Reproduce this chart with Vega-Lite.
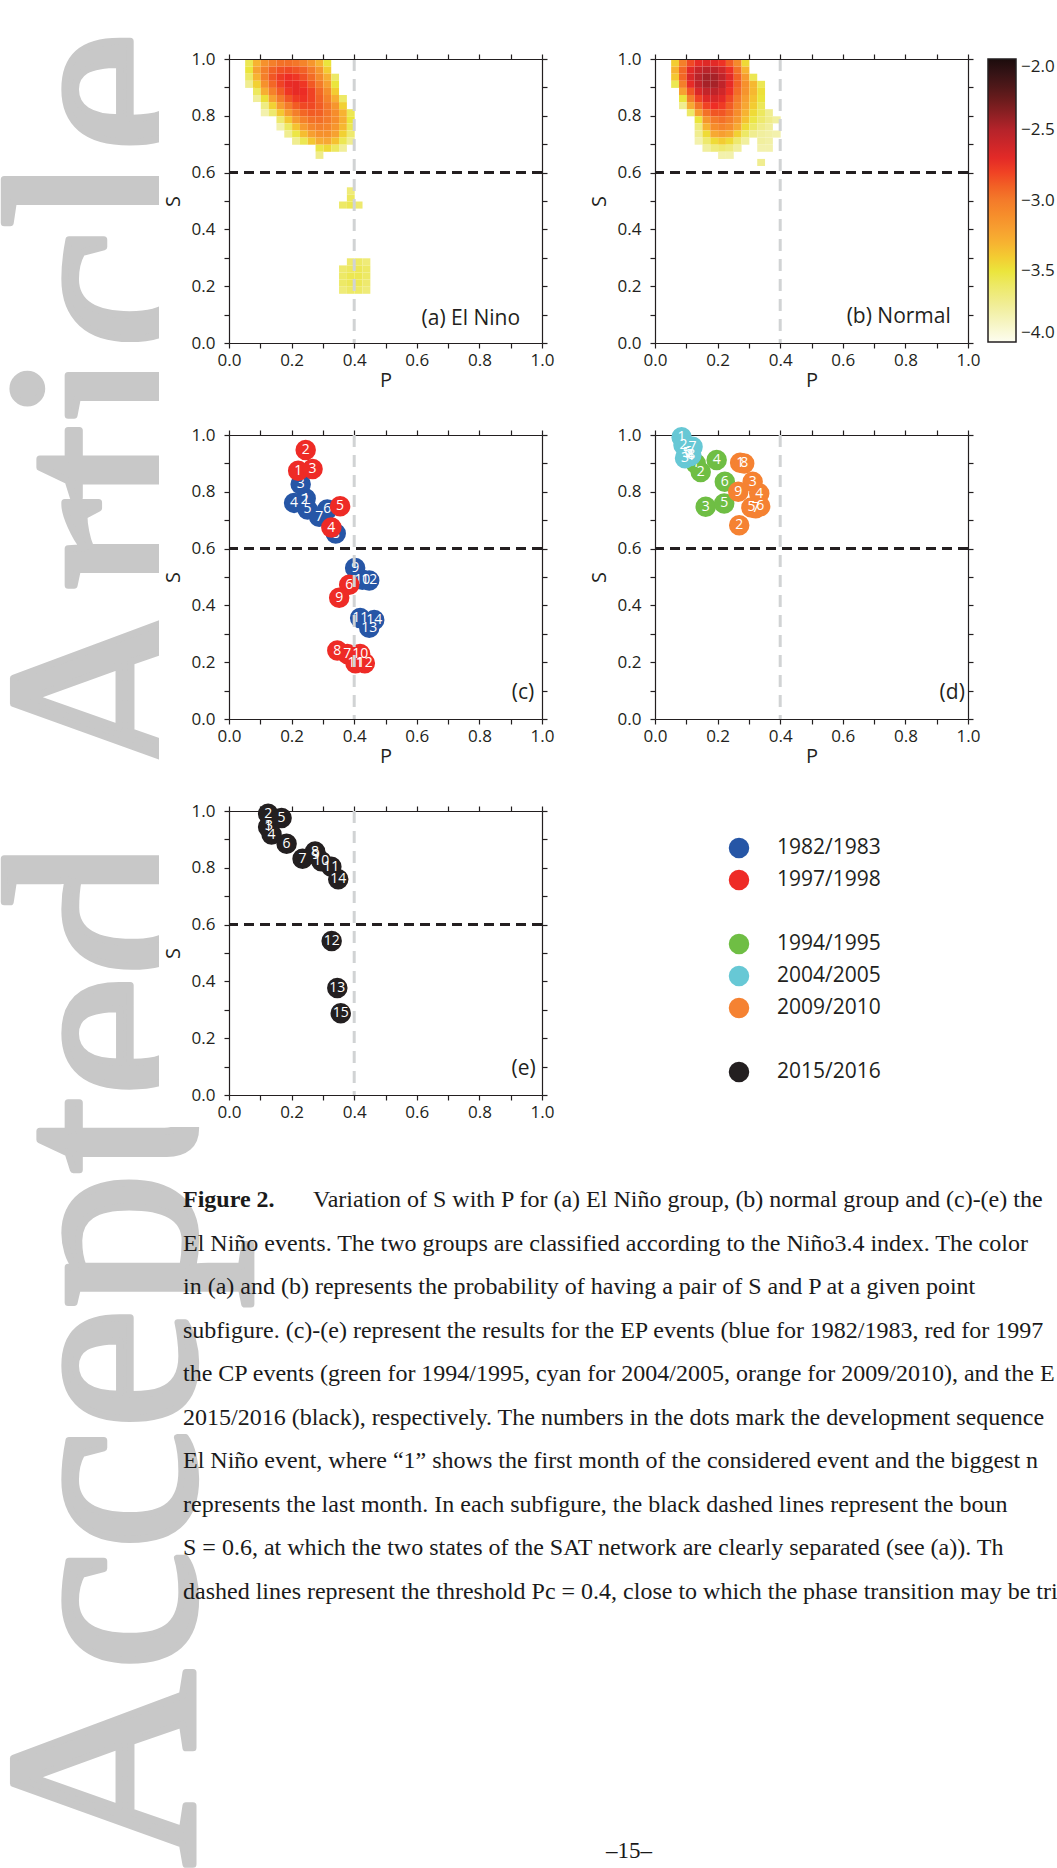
{
"$schema":"https://vega.github.io/schema/vega-lite/v6.json",
"background":"white",
"padding":{"left":-26,"top":0,"right":0,"bottom":0},
"config":{
 "view":{"stroke":null},
 "axis":{"grid":false,"domainColor":"#231f20","domainWidth":1.2,"tickColor":"#231f20","tickWidth":1.2,"tickSize":5,"labelFont":"Open Sans","labelFontSize":17,"labelColor":"#231f20","labelPadding":9,"labelFlush":false,"labelOverlap":false,"titleFont":"Open Sans","titleFontSize":20,"titleFontWeight":"normal","titleColor":"#231f20","titlePadding":6},
 "axisLeft":{"titlePadding":8},
 "axisBottom":{"labelPadding":4,"titlePadding":2}
},
"datasets":{
"heatA":[
{"p":0.05,"s":0.975,"v":-3.55},{"p":0.075,"s":0.975,"v":-3.3},{"p":0.1,"s":0.975,"v":-3.12},{"p":0.125,"s":0.975,"v":-3.02},{"p":0.15,"s":0.975,"v":-2.96},{"p":0.175,"s":0.975,"v":-2.95},{"p":0.2,"s":0.975,"v":-2.98},{"p":0.225,"s":0.975,"v":-3.05},{"p":0.25,"s":0.975,"v":-3.15},{"p":0.275,"s":0.975,"v":-3.3},{"p":0.3,"s":0.975,"v":-3.5},
{"p":0.05,"s":0.95,"v":-3.5},{"p":0.075,"s":0.95,"v":-3.22},{"p":0.1,"s":0.95,"v":-3.02},{"p":0.125,"s":0.95,"v":-2.9},{"p":0.15,"s":0.95,"v":-2.84},{"p":0.175,"s":0.95,"v":-2.82},{"p":0.2,"s":0.95,"v":-2.85},{"p":0.225,"s":0.95,"v":-2.9},{"p":0.25,"s":0.95,"v":-3.0},{"p":0.275,"s":0.95,"v":-3.15},{"p":0.3,"s":0.95,"v":-3.4},
{"p":0.05,"s":0.925,"v":-3.6},{"p":0.075,"s":0.925,"v":-3.3},{"p":0.1,"s":0.925,"v":-3.02},{"p":0.125,"s":0.925,"v":-2.86},{"p":0.15,"s":0.925,"v":-2.78},{"p":0.175,"s":0.925,"v":-2.75},{"p":0.2,"s":0.925,"v":-2.77},{"p":0.225,"s":0.925,"v":-2.84},{"p":0.25,"s":0.925,"v":-2.94},{"p":0.275,"s":0.925,"v":-3.08},{"p":0.3,"s":0.925,"v":-3.28},{"p":0.325,"s":0.925,"v":-3.6},
{"p":0.05,"s":0.9,"v":-3.72},{"p":0.075,"s":0.9,"v":-3.42},{"p":0.1,"s":0.9,"v":-3.12},{"p":0.125,"s":0.9,"v":-2.92},{"p":0.15,"s":0.9,"v":-2.8},{"p":0.175,"s":0.9,"v":-2.73},{"p":0.2,"s":0.9,"v":-2.72},{"p":0.225,"s":0.9,"v":-2.77},{"p":0.25,"s":0.9,"v":-2.87},{"p":0.275,"s":0.9,"v":-3.0},{"p":0.3,"s":0.9,"v":-3.2},{"p":0.325,"s":0.9,"v":-3.5},
{"p":0.075,"s":0.875,"v":-3.58},{"p":0.1,"s":0.875,"v":-3.28},{"p":0.125,"s":0.875,"v":-3.03},{"p":0.15,"s":0.875,"v":-2.88},{"p":0.175,"s":0.875,"v":-2.77},{"p":0.2,"s":0.875,"v":-2.72},{"p":0.225,"s":0.875,"v":-2.74},{"p":0.25,"s":0.875,"v":-2.8},{"p":0.275,"s":0.875,"v":-2.93},{"p":0.3,"s":0.875,"v":-3.1},{"p":0.325,"s":0.875,"v":-3.4},
{"p":0.075,"s":0.85,"v":-3.75},{"p":0.1,"s":0.85,"v":-3.48},{"p":0.125,"s":0.85,"v":-3.22},{"p":0.15,"s":0.85,"v":-3.0},{"p":0.175,"s":0.85,"v":-2.86},{"p":0.2,"s":0.85,"v":-2.78},{"p":0.225,"s":0.85,"v":-2.76},{"p":0.25,"s":0.85,"v":-2.8},{"p":0.275,"s":0.85,"v":-2.9},{"p":0.3,"s":0.85,"v":-3.04},{"p":0.325,"s":0.85,"v":-3.28},{"p":0.35,"s":0.85,"v":-3.6},
{"p":0.1,"s":0.825,"v":-3.68},{"p":0.125,"s":0.825,"v":-3.42},{"p":0.15,"s":0.825,"v":-3.18},{"p":0.175,"s":0.825,"v":-3.0},{"p":0.2,"s":0.825,"v":-2.88},{"p":0.225,"s":0.825,"v":-2.82},{"p":0.25,"s":0.825,"v":-2.82},{"p":0.275,"s":0.825,"v":-2.88},{"p":0.3,"s":0.825,"v":-2.98},{"p":0.325,"s":0.825,"v":-3.15},{"p":0.35,"s":0.825,"v":-3.42},
{"p":0.1,"s":0.8,"v":-3.8},{"p":0.125,"s":0.8,"v":-3.62},{"p":0.15,"s":0.8,"v":-3.38},{"p":0.175,"s":0.8,"v":-3.18},{"p":0.2,"s":0.8,"v":-3.02},{"p":0.225,"s":0.8,"v":-2.92},{"p":0.25,"s":0.8,"v":-2.88},{"p":0.275,"s":0.8,"v":-2.9},{"p":0.3,"s":0.8,"v":-2.98},{"p":0.325,"s":0.8,"v":-3.1},{"p":0.35,"s":0.8,"v":-3.3},{"p":0.375,"s":0.8,"v":-3.55},
{"p":0.15,"s":0.775,"v":-3.62},{"p":0.175,"s":0.775,"v":-3.38},{"p":0.2,"s":0.775,"v":-3.18},{"p":0.225,"s":0.775,"v":-3.04},{"p":0.25,"s":0.775,"v":-2.96},{"p":0.275,"s":0.775,"v":-2.95},{"p":0.3,"s":0.775,"v":-3.0},{"p":0.325,"s":0.775,"v":-3.1},{"p":0.35,"s":0.775,"v":-3.28},{"p":0.375,"s":0.775,"v":-3.5},
{"p":0.15,"s":0.75,"v":-3.8},{"p":0.175,"s":0.75,"v":-3.58},{"p":0.2,"s":0.75,"v":-3.36},{"p":0.225,"s":0.75,"v":-3.18},{"p":0.25,"s":0.75,"v":-3.06},{"p":0.275,"s":0.75,"v":-3.02},{"p":0.3,"s":0.75,"v":-3.05},{"p":0.325,"s":0.75,"v":-3.15},{"p":0.35,"s":0.75,"v":-3.32},{"p":0.375,"s":0.75,"v":-3.55},
{"p":0.175,"s":0.725,"v":-3.72},{"p":0.2,"s":0.725,"v":-3.52},{"p":0.225,"s":0.725,"v":-3.34},{"p":0.25,"s":0.725,"v":-3.2},{"p":0.275,"s":0.725,"v":-3.12},{"p":0.3,"s":0.725,"v":-3.12},{"p":0.325,"s":0.725,"v":-3.22},{"p":0.35,"s":0.725,"v":-3.42},{"p":0.375,"s":0.725,"v":-3.62},
{"p":0.2,"s":0.7,"v":-3.72},{"p":0.225,"s":0.7,"v":-3.55},{"p":0.25,"s":0.7,"v":-3.38},{"p":0.275,"s":0.7,"v":-3.27},{"p":0.3,"s":0.7,"v":-3.25},{"p":0.325,"s":0.7,"v":-3.36},{"p":0.35,"s":0.7,"v":-3.55},{"p":0.375,"s":0.7,"v":-3.72},
{"p":0.275,"s":0.675,"v":-3.52},{"p":0.3,"s":0.675,"v":-3.45},{"p":0.325,"s":0.675,"v":-3.58},{"p":0.35,"s":0.675,"v":-3.75},
{"p":0.275,"s":0.65,"v":-3.7},
{"p":0.35,"s":0.475,"v":-3.6},{"p":0.375,"s":0.475,"v":-3.55},{"p":0.4,"s":0.475,"v":-3.62},{"p":0.375,"s":0.5,"v":-3.58},{"p":0.375,"s":0.525,"v":-3.65},
{"p":0.375,"s":0.275,"v":-3.62},{"p":0.4,"s":0.275,"v":-3.6},{"p":0.425,"s":0.275,"v":-3.65},
{"p":0.35,"s":0.25,"v":-3.62},{"p":0.375,"s":0.25,"v":-3.58},{"p":0.4,"s":0.25,"v":-3.56},{"p":0.425,"s":0.25,"v":-3.6},
{"p":0.35,"s":0.225,"v":-3.6},{"p":0.375,"s":0.225,"v":-3.55},{"p":0.4,"s":0.225,"v":-3.55},{"p":0.425,"s":0.225,"v":-3.6},
{"p":0.35,"s":0.2,"v":-3.6},{"p":0.375,"s":0.2,"v":-3.56},{"p":0.4,"s":0.2,"v":-3.56},{"p":0.425,"s":0.2,"v":-3.62},
{"p":0.35,"s":0.175,"v":-3.65},{"p":0.375,"s":0.175,"v":-3.6},{"p":0.4,"s":0.175,"v":-3.6},{"p":0.425,"s":0.175,"v":-3.65}
],
"heatB":[
{"p":0.05,"s":0.975,"v":-3.4},{"p":0.075,"s":0.975,"v":-3.02},{"p":0.1,"s":0.975,"v":-2.82},{"p":0.125,"s":0.975,"v":-2.72},{"p":0.15,"s":0.975,"v":-2.68},{"p":0.175,"s":0.975,"v":-2.7},{"p":0.2,"s":0.975,"v":-2.76},{"p":0.225,"s":0.975,"v":-2.88},{"p":0.25,"s":0.975,"v":-3.08},{"p":0.275,"s":0.975,"v":-3.45},
{"p":0.05,"s":0.95,"v":-3.3},{"p":0.075,"s":0.95,"v":-2.92},{"p":0.1,"s":0.95,"v":-2.7},{"p":0.125,"s":0.95,"v":-2.58},{"p":0.15,"s":0.95,"v":-2.52},{"p":0.175,"s":0.95,"v":-2.54},{"p":0.2,"s":0.95,"v":-2.62},{"p":0.225,"s":0.95,"v":-2.76},{"p":0.25,"s":0.95,"v":-2.96},{"p":0.275,"s":0.95,"v":-3.3},
{"p":0.05,"s":0.925,"v":-3.38},{"p":0.075,"s":0.925,"v":-2.92},{"p":0.1,"s":0.925,"v":-2.66},{"p":0.125,"s":0.925,"v":-2.52},{"p":0.15,"s":0.925,"v":-2.45},{"p":0.175,"s":0.925,"v":-2.46},{"p":0.2,"s":0.925,"v":-2.55},{"p":0.225,"s":0.925,"v":-2.7},{"p":0.25,"s":0.925,"v":-2.9},{"p":0.275,"s":0.925,"v":-3.18},{"p":0.3,"s":0.925,"v":-3.55},
{"p":0.05,"s":0.9,"v":-3.55},{"p":0.075,"s":0.9,"v":-3.02},{"p":0.1,"s":0.9,"v":-2.72},{"p":0.125,"s":0.9,"v":-2.55},{"p":0.15,"s":0.9,"v":-2.46},{"p":0.175,"s":0.9,"v":-2.46},{"p":0.2,"s":0.9,"v":-2.55},{"p":0.225,"s":0.9,"v":-2.72},{"p":0.25,"s":0.9,"v":-2.9},{"p":0.275,"s":0.9,"v":-3.12},{"p":0.3,"s":0.9,"v":-3.32},{"p":0.325,"s":0.9,"v":-3.55},
{"p":0.075,"s":0.875,"v":-3.22},{"p":0.1,"s":0.875,"v":-2.86},{"p":0.125,"s":0.875,"v":-2.66},{"p":0.15,"s":0.875,"v":-2.56},{"p":0.175,"s":0.875,"v":-2.55},{"p":0.2,"s":0.875,"v":-2.62},{"p":0.225,"s":0.875,"v":-2.76},{"p":0.25,"s":0.875,"v":-2.94},{"p":0.275,"s":0.875,"v":-3.14},{"p":0.3,"s":0.875,"v":-3.32},{"p":0.325,"s":0.875,"v":-3.48},
{"p":0.075,"s":0.85,"v":-3.5},{"p":0.1,"s":0.85,"v":-3.02},{"p":0.125,"s":0.85,"v":-2.8},{"p":0.15,"s":0.85,"v":-2.68},{"p":0.175,"s":0.85,"v":-2.65},{"p":0.2,"s":0.85,"v":-2.7},{"p":0.225,"s":0.85,"v":-2.82},{"p":0.25,"s":0.85,"v":-3.0},{"p":0.275,"s":0.85,"v":-3.2},{"p":0.3,"s":0.85,"v":-3.36},{"p":0.325,"s":0.85,"v":-3.5},
{"p":0.075,"s":0.825,"v":-3.72},{"p":0.1,"s":0.825,"v":-3.26},{"p":0.125,"s":0.825,"v":-2.96},{"p":0.15,"s":0.825,"v":-2.8},{"p":0.175,"s":0.825,"v":-2.75},{"p":0.2,"s":0.825,"v":-2.78},{"p":0.225,"s":0.825,"v":-2.88},{"p":0.25,"s":0.825,"v":-3.05},{"p":0.275,"s":0.825,"v":-3.25},{"p":0.3,"s":0.825,"v":-3.4},{"p":0.325,"s":0.825,"v":-3.56},
{"p":0.1,"s":0.8,"v":-3.6},{"p":0.125,"s":0.8,"v":-3.2},{"p":0.15,"s":0.8,"v":-2.96},{"p":0.175,"s":0.8,"v":-2.86},{"p":0.2,"s":0.8,"v":-2.86},{"p":0.225,"s":0.8,"v":-2.94},{"p":0.25,"s":0.8,"v":-3.1},{"p":0.275,"s":0.8,"v":-3.3},{"p":0.3,"s":0.8,"v":-3.46},{"p":0.325,"s":0.8,"v":-3.58},{"p":0.35,"s":0.8,"v":-3.72},
{"p":0.125,"s":0.775,"v":-3.5},{"p":0.15,"s":0.775,"v":-3.15},{"p":0.175,"s":0.775,"v":-3.0},{"p":0.2,"s":0.775,"v":-2.96},{"p":0.225,"s":0.775,"v":-3.02},{"p":0.25,"s":0.775,"v":-3.16},{"p":0.275,"s":0.775,"v":-3.36},{"p":0.3,"s":0.775,"v":-3.52},{"p":0.325,"s":0.775,"v":-3.62},{"p":0.35,"s":0.775,"v":-3.7},{"p":0.375,"s":0.775,"v":-3.76},
{"p":0.125,"s":0.75,"v":-3.66},{"p":0.15,"s":0.75,"v":-3.3},{"p":0.175,"s":0.75,"v":-3.1},{"p":0.2,"s":0.75,"v":-3.05},{"p":0.225,"s":0.75,"v":-3.1},{"p":0.25,"s":0.75,"v":-3.26},{"p":0.275,"s":0.75,"v":-3.46},{"p":0.3,"s":0.75,"v":-3.6},{"p":0.325,"s":0.75,"v":-3.7},{"p":0.35,"s":0.75,"v":-3.75},
{"p":0.125,"s":0.725,"v":-3.72},{"p":0.15,"s":0.725,"v":-3.46},{"p":0.175,"s":0.725,"v":-3.26},{"p":0.2,"s":0.725,"v":-3.2},{"p":0.225,"s":0.725,"v":-3.26},{"p":0.25,"s":0.725,"v":-3.42},{"p":0.275,"s":0.725,"v":-3.6},{"p":0.3,"s":0.725,"v":-3.72},{"p":0.325,"s":0.725,"v":-3.76},{"p":0.35,"s":0.725,"v":-3.78},{"p":0.375,"s":0.725,"v":-3.8},
{"p":0.125,"s":0.7,"v":-3.8},{"p":0.15,"s":0.7,"v":-3.62},{"p":0.175,"s":0.7,"v":-3.46},{"p":0.2,"s":0.7,"v":-3.4},{"p":0.225,"s":0.7,"v":-3.46},{"p":0.25,"s":0.7,"v":-3.62},{"p":0.275,"s":0.7,"v":-3.76},{"p":0.325,"s":0.7,"v":-3.76},{"p":0.35,"s":0.7,"v":-3.78},
{"p":0.15,"s":0.675,"v":-3.76},{"p":0.175,"s":0.675,"v":-3.66},{"p":0.2,"s":0.675,"v":-3.62},{"p":0.225,"s":0.675,"v":-3.66},{"p":0.25,"s":0.675,"v":-3.76},{"p":0.325,"s":0.675,"v":-3.8},{"p":0.35,"s":0.675,"v":-3.8},
{"p":0.2,"s":0.65,"v":-3.8},{"p":0.225,"s":0.65,"v":-3.8},
{"p":0.325,"s":0.625,"v":-3.72}
],
"ev":[
{"e":"1982/1983","m":1,"p":0.245,"s":0.776},{"e":"1982/1983","m":2,"p":0.242,"s":0.771},{"e":"1982/1983","m":3,"p":0.229,"s":0.827},{"e":"1982/1983","m":4,"p":0.208,"s":0.761},{"e":"1982/1983","m":5,"p":0.251,"s":0.738},{"e":"1982/1983","m":6,"p":0.314,"s":0.738},{"e":"1982/1983","m":7,"p":0.288,"s":0.712},{"e":"1982/1983","m":8,"p":0.341,"s":0.653},{"e":"1982/1983","m":9,"p":0.403,"s":0.532},{"e":"1982/1983","m":10,"p":0.426,"s":0.49},{"e":"1982/1983","m":11,"p":0.419,"s":0.356},{"e":"1982/1983","m":12,"p":0.448,"s":0.488},{"e":"1982/1983","m":13,"p":0.448,"s":0.321},{"e":"1982/1983","m":14,"p":0.464,"s":0.349},
{"e":"1997/1998","m":1,"p":0.221,"s":0.874},{"e":"1997/1998","m":2,"p":0.245,"s":0.947},{"e":"1997/1998","m":3,"p":0.267,"s":0.88},{"e":"1997/1998","m":4,"p":0.327,"s":0.674},{"e":"1997/1998","m":5,"p":0.355,"s":0.749},{"e":"1997/1998","m":6,"p":0.384,"s":0.473},{"e":"1997/1998","m":7,"p":0.378,"s":0.229},{"e":"1997/1998","m":8,"p":0.346,"s":0.241},{"e":"1997/1998","m":9,"p":0.352,"s":0.427},{"e":"1997/1998","m":10,"p":0.419,"s":0.229},{"e":"1997/1998","m":11,"p":0.404,"s":0.196},{"e":"1997/1998","m":12,"p":0.434,"s":0.196},
{"e":"1994/1995","m":1,"p":0.13,"s":0.9},{"e":"1994/1995","m":2,"p":0.146,"s":0.87},{"e":"1994/1995","m":3,"p":0.162,"s":0.747},{"e":"1994/1995","m":4,"p":0.197,"s":0.912},{"e":"1994/1995","m":5,"p":0.221,"s":0.759},{"e":"1994/1995","m":6,"p":0.223,"s":0.835},
{"e":"2004/2005","m":1,"p":0.085,"s":0.992},{"e":"2004/2005","m":2,"p":0.091,"s":0.965},{"e":"2004/2005","m":3,"p":0.096,"s":0.918},{"e":"2004/2005","m":4,"p":0.112,"s":0.926},{"e":"2004/2005","m":5,"p":0.101,"s":0.935},{"e":"2004/2005","m":6,"p":0.106,"s":0.941},{"e":"2004/2005","m":7,"p":0.12,"s":0.959},{"e":"2004/2005","m":8,"p":0.116,"s":0.929},
{"e":"2009/2010","m":1,"p":0.272,"s":0.902},{"e":"2009/2010","m":2,"p":0.269,"s":0.682},{"e":"2009/2010","m":3,"p":0.312,"s":0.835},{"e":"2009/2010","m":4,"p":0.333,"s":0.794},{"e":"2009/2010","m":5,"p":0.308,"s":0.745},{"e":"2009/2010","m":6,"p":0.336,"s":0.749},{"e":"2009/2010","m":7,"p":0.322,"s":0.742},{"e":"2009/2010","m":8,"p":0.285,"s":0.9},{"e":"2009/2010","m":9,"p":0.266,"s":0.8},
{"e":"2015/2016","m":1,"p":0.125,"s":0.944},{"e":"2015/2016","m":2,"p":0.125,"s":0.99},{"e":"2015/2016","m":3,"p":0.128,"s":0.946},{"e":"2015/2016","m":4,"p":0.136,"s":0.917},{"e":"2015/2016","m":5,"p":0.168,"s":0.975},{"e":"2015/2016","m":6,"p":0.184,"s":0.885},{"e":"2015/2016","m":7,"p":0.235,"s":0.832},{"e":"2015/2016","m":8,"p":0.275,"s":0.857},{"e":"2015/2016","m":9,"p":0.277,"s":0.846},{"e":"2015/2016","m":10,"p":0.295,"s":0.823},{"e":"2015/2016","m":11,"p":0.327,"s":0.804},{"e":"2015/2016","m":12,"p":0.328,"s":0.542},{"e":"2015/2016","m":13,"p":0.346,"s":0.377},{"e":"2015/2016","m":14,"p":0.349,"s":0.76},{"e":"2015/2016","m":15,"p":0.357,"s":0.288}
],
"leg":[{"e":"1982/1983"},{"e":"1997/1998"},{"e":"1994/1995"},{"e":"2004/2005"},{"e":"2009/2010"},{"e":"2015/2016"}],
"cap":[
{"line":1,"part":"b","t":"Figure 2."},
{"line":1,"part":"r","t":"Variation of S with P for (a) El Niño group, (b) normal group and (c)-(e) the s"},
{"line":2,"part":"n","t":"El Niño events. The two groups are classified according to the Niño3.4 index. The color"},
{"line":3,"part":"n","t":"in (a) and (b) represents the probability of having a pair of S and P at a given point"},
{"line":4,"part":"n","t":"subfigure. (c)-(e) represent the results for the EP events (blue for 1982/1983, red for 1997"},
{"line":5,"part":"n","t":"the CP events (green for 1994/1995, cyan for 2004/2005, orange for 2009/2010), and the El"},
{"line":6,"part":"n","t":"2015/2016 (black), respectively. The numbers in the dots mark the development sequence"},
{"line":7,"part":"n","t":"El Niño event, where “1” shows the first month of the considered event and the biggest n"},
{"line":8,"part":"n","t":"represents the last month. In each subfigure, the black dashed lines represent the boun"},
{"line":9,"part":"n","t":"S = 0.6, at which the two states of the SAT network are clearly separated (see (a)). Th"},
{"line":10,"part":"n","t":"dashed lines represent the threshold Pc = 0.4, close to which the phase transition may be tri"}
]
},
"columns":2,
"spacing":{"row":92,"column":113},
"bounds":"flush",
"resolve":{"scale":{"color":"independent"},"legend":{"color":"independent"}},
"concat":[
 {"width":313,"height":284,
  "resolve":{"axis":{"x":"independent","y":"independent"}},
  "layer":[
   {"data":{"values":[{}]},"mark":{"type":"rect","color":"white","x":-228,"x2":829,"y":-59,"y2":1809},"encoding":{}},
   {"data":{"values":[{}]},"mark":{"type":"text","text":"Accepted Article","font":"Liberation Serif","fontSize":272,"fill":"#c8c8c8","stroke":"#c8c8c8","strokeWidth":7,"strokeJoin":"round","angle":270,"align":"left","baseline":"alphabetic","x":-36,"y":1808},"encoding":{}},
   {"data":{"values":[{}]},"mark":{"type":"rect","color":"white","x":-70,"x2":829,"y":-59,"y2":1068},"encoding":{}},
   {"data":{"name":"heatA"},"mark":{"type":"rect"},
    "encoding":{
     "x":{"field":"p","type":"quantitative","bin":{"binned":true,"step":0.025},"scale":{"domain":[0,1]},"axis":{"orient":"top","values":[0,0.1,0.2,0.3,0.4,0.5,0.6,0.7,0.8,0.9,1],"labels":false,"title":null,"zindex":1}},
     "y":{"field":"s","type":"quantitative","bin":{"binned":true,"step":0.025},"scale":{"domain":[0,1]},"axis":{"orient":"right","values":[0,0.1,0.2,0.3,0.4,0.5,0.6,0.7,0.8,0.9,1],"labels":false,"title":null,"zindex":1}},
     "color":{"field":"v","type":"quantitative","scale":{"domain":[-4,-3.75,-3.5,-3.25,-3,-2.75,-2.5,-2.25,-2],"range":["#fdfdf0","#f1ee9a","#ebe53c","#f7a733","#f47b2a","#ee2d25","#b5232a","#5e1a1a","#1c0c0c"]},"legend":null}}},
   {"data":{"values":[{}]},"mark":{"type":"rule","color":"#d1d3d4","strokeWidth":3,"strokeDash":[12,8]},"encoding":{"x":{"datum":0.4,"type":"quantitative","scale":{"domain":[0,1]},"axis":{"orient":"bottom","values":[0,0.1,0.2,0.3,0.4,0.5,0.6,0.7,0.8,0.9,1],"labelExpr":"round(datum.value*10)%2==0 ? format(datum.value,'.1f') : ''","title":"P","zindex":1}}}},
   {"data":{"values":[{}]},"mark":{"type":"rule","color":"#231f20","strokeWidth":3,"strokeDash":[10,6]},"encoding":{"y":{"datum":0.6,"type":"quantitative","scale":{"domain":[0,1]},"axis":{"orient":"left","values":[0,0.1,0.2,0.3,0.4,0.5,0.6,0.7,0.8,0.9,1],"labelExpr":"round(datum.value*10)%2==0 ? format(datum.value,'.1f') : ''","title":"S","zindex":1}}}},
   {"data":{"values":[{}]},"mark":{"type":"text","text":"(a) El Nino","align":"right","baseline":"alphabetic","fontSize":21,"font":"Open Sans","color":"#231f20"},"encoding":{"x":{"datum":0.93,"type":"quantitative","axis":null},"y":{"datum":0.065,"type":"quantitative","axis":null}}}
  ]},
 {"width":313,"height":284,
  "resolve":{"axis":{"x":"independent","y":"independent"}},
  "layer":[
   {"data":{"name":"heatB"},"mark":{"type":"rect"},
    "encoding":{
     "x":{"field":"p","type":"quantitative","bin":{"binned":true,"step":0.025},"scale":{"domain":[0,1]},"axis":{"orient":"top","values":[0,0.1,0.2,0.3,0.4,0.5,0.6,0.7,0.8,0.9,1],"labels":false,"title":null,"zindex":1}},
     "y":{"field":"s","type":"quantitative","bin":{"binned":true,"step":0.025},"scale":{"domain":[0,1]},"axis":{"orient":"right","values":[0,0.1,0.2,0.3,0.4,0.5,0.6,0.7,0.8,0.9,1],"labels":false,"title":null,"zindex":1}},
     "color":{"field":"v","type":"quantitative","scale":{"domain":[-4,-3.75,-3.5,-3.25,-3,-2.75,-2.5,-2.25,-2],"range":["#fdfdf0","#f1ee9a","#ebe53c","#f7a733","#f47b2a","#ee2d25","#b5232a","#5e1a1a","#1c0c0c"]},
      "legend":{"type":"gradient","title":null,"orient":"right","offset":14,"padding":0,"direction":"vertical","gradientLength":283,"gradientThickness":28,"values":[-4,-3.5,-3,-2.5,-2],"labelExpr":"replace(format(datum.value,'.1f'),'-','−')","labelFont":"Open Sans","labelFontSize":17,"labelColor":"#231f20","labelOffset":5,"gradientStrokeColor":"#231f20","gradientStrokeWidth":1.5}}}},
   {"data":{"values":[{}]},"mark":{"type":"rule","color":"#d1d3d4","strokeWidth":3,"strokeDash":[12,8]},"encoding":{"x":{"datum":0.4,"type":"quantitative","scale":{"domain":[0,1]},"axis":{"orient":"bottom","values":[0,0.1,0.2,0.3,0.4,0.5,0.6,0.7,0.8,0.9,1],"labelExpr":"round(datum.value*10)%2==0 ? format(datum.value,'.1f') : ''","title":"P","zindex":1}}}},
   {"data":{"values":[{}]},"mark":{"type":"rule","color":"#231f20","strokeWidth":3,"strokeDash":[10,6]},"encoding":{"y":{"datum":0.6,"type":"quantitative","scale":{"domain":[0,1]},"axis":{"orient":"left","values":[0,0.1,0.2,0.3,0.4,0.5,0.6,0.7,0.8,0.9,1],"labelExpr":"round(datum.value*10)%2==0 ? format(datum.value,'.1f') : ''","title":"S","zindex":1}}}},
   {"data":{"values":[{}]},"mark":{"type":"text","text":"(b) Normal","align":"right","baseline":"alphabetic","fontSize":21,"font":"Open Sans","color":"#231f20"},"encoding":{"x":{"datum":0.945,"type":"quantitative","axis":null},"y":{"datum":0.07,"type":"quantitative","axis":null}}}
  ]},
 {"width":313,"height":284,
  "resolve":{"axis":{"x":"independent","y":"independent"}},
  "layer":[
   {"data":{"name":"ev"},"transform":[{"filter":"datum.e=='1982/1983'"}],"mark":{"type":"circle","size":420,"opacity":1},"encoding":{"x":{"field":"p","type":"quantitative","scale":{"domain":[0,1]},"axis":{"orient":"top","values":[0,0.1,0.2,0.3,0.4,0.5,0.6,0.7,0.8,0.9,1],"labels":false,"title":null}},"y":{"field":"s","type":"quantitative","scale":{"domain":[0,1]},"axis":{"orient":"right","values":[0,0.1,0.2,0.3,0.4,0.5,0.6,0.7,0.8,0.9,1],"labels":false,"title":null}},"color":{"field":"e","type":"nominal","scale":{"domain":["1982/1983","1997/1998","1994/1995","2004/2005","2009/2010","2015/2016"],"range":["#2656a6","#ee2b26","#6fbe44","#67c8d5","#f58232","#231f20"]},"legend":null}}},
   {"data":{"name":"ev"},"transform":[{"filter":"datum.e=='1982/1983'"}],"mark":{"type":"text","color":"white","fontSize":14,"font":"Open Sans","align":"center","baseline":"middle"},"encoding":{"x":{"field":"p","type":"quantitative","axis":null},"y":{"field":"s","type":"quantitative","axis":null},"text":{"field":"m","type":"nominal"}}},
   {"data":{"name":"ev"},"transform":[{"filter":"datum.e=='1997/1998'"}],"mark":{"type":"circle","size":420,"opacity":1},"encoding":{"x":{"field":"p","type":"quantitative","axis":null},"y":{"field":"s","type":"quantitative","axis":null},"color":{"field":"e","type":"nominal","scale":{"domain":["1982/1983","1997/1998","1994/1995","2004/2005","2009/2010","2015/2016"],"range":["#2656a6","#ee2b26","#6fbe44","#67c8d5","#f58232","#231f20"]},"legend":null}}},
   {"data":{"name":"ev"},"transform":[{"filter":"datum.e=='1997/1998'"}],"mark":{"type":"text","color":"white","fontSize":14,"font":"Open Sans","align":"center","baseline":"middle"},"encoding":{"x":{"field":"p","type":"quantitative","axis":null},"y":{"field":"s","type":"quantitative","axis":null},"text":{"field":"m","type":"nominal"}}},
   {"data":{"values":[{}]},"mark":{"type":"rule","color":"#d1d3d4","strokeWidth":3,"strokeDash":[12,8]},"encoding":{"x":{"datum":0.4,"type":"quantitative","scale":{"domain":[0,1]},"axis":{"orient":"bottom","values":[0,0.1,0.2,0.3,0.4,0.5,0.6,0.7,0.8,0.9,1],"labelExpr":"round(datum.value*10)%2==0 ? format(datum.value,'.1f') : ''","title":"P"}}}},
   {"data":{"values":[{}]},"mark":{"type":"rule","color":"#231f20","strokeWidth":3,"strokeDash":[10,6]},"encoding":{"y":{"datum":0.6,"type":"quantitative","scale":{"domain":[0,1]},"axis":{"orient":"left","values":[0,0.1,0.2,0.3,0.4,0.5,0.6,0.7,0.8,0.9,1],"labelExpr":"round(datum.value*10)%2==0 ? format(datum.value,'.1f') : ''","title":"S"}}}},
   {"data":{"values":[{}]},"mark":{"type":"text","text":"(c)","align":"right","baseline":"alphabetic","fontSize":21,"font":"Open Sans","color":"#231f20"},"encoding":{"x":{"datum":0.975,"type":"quantitative","axis":null},"y":{"datum":0.07,"type":"quantitative","axis":null}}}
  ]},
 {"width":313,"height":284,
  "resolve":{"axis":{"x":"independent","y":"independent"}},
  "layer":[
   {"data":{"name":"ev"},"transform":[{"filter":"datum.e=='1994/1995'"}],"mark":{"type":"circle","size":420,"opacity":1},"encoding":{"x":{"field":"p","type":"quantitative","scale":{"domain":[0,1]},"axis":{"orient":"top","values":[0,0.1,0.2,0.3,0.4,0.5,0.6,0.7,0.8,0.9,1],"labels":false,"title":null}},"y":{"field":"s","type":"quantitative","scale":{"domain":[0,1]},"axis":{"orient":"right","values":[0,0.1,0.2,0.3,0.4,0.5,0.6,0.7,0.8,0.9,1],"labels":false,"title":null}},"color":{"field":"e","type":"nominal","scale":{"domain":["1982/1983","1997/1998","1994/1995","2004/2005","2009/2010","2015/2016"],"range":["#2656a6","#ee2b26","#6fbe44","#67c8d5","#f58232","#231f20"]},"legend":null}}},
   {"data":{"name":"ev"},"transform":[{"filter":"datum.e=='1994/1995'"}],"mark":{"type":"text","color":"white","fontSize":14,"font":"Open Sans","align":"center","baseline":"middle"},"encoding":{"x":{"field":"p","type":"quantitative","axis":null},"y":{"field":"s","type":"quantitative","axis":null},"text":{"field":"m","type":"nominal"}}},
   {"data":{"name":"ev"},"transform":[{"filter":"datum.e=='2004/2005'"}],"mark":{"type":"circle","size":420,"opacity":1},"encoding":{"x":{"field":"p","type":"quantitative","axis":null},"y":{"field":"s","type":"quantitative","axis":null},"color":{"field":"e","type":"nominal","scale":{"domain":["1982/1983","1997/1998","1994/1995","2004/2005","2009/2010","2015/2016"],"range":["#2656a6","#ee2b26","#6fbe44","#67c8d5","#f58232","#231f20"]},"legend":null}}},
   {"data":{"name":"ev"},"transform":[{"filter":"datum.e=='2004/2005'"}],"mark":{"type":"text","color":"white","fontSize":14,"font":"Open Sans","align":"center","baseline":"middle"},"encoding":{"x":{"field":"p","type":"quantitative","axis":null},"y":{"field":"s","type":"quantitative","axis":null},"text":{"field":"m","type":"nominal"}}},
   {"data":{"name":"ev"},"transform":[{"filter":"datum.e=='2009/2010'"}],"mark":{"type":"circle","size":420,"opacity":1},"encoding":{"x":{"field":"p","type":"quantitative","axis":null},"y":{"field":"s","type":"quantitative","axis":null},"color":{"field":"e","type":"nominal","scale":{"domain":["1982/1983","1997/1998","1994/1995","2004/2005","2009/2010","2015/2016"],"range":["#2656a6","#ee2b26","#6fbe44","#67c8d5","#f58232","#231f20"]},"legend":null}}},
   {"data":{"name":"ev"},"transform":[{"filter":"datum.e=='2009/2010'"}],"mark":{"type":"text","color":"white","fontSize":14,"font":"Open Sans","align":"center","baseline":"middle"},"encoding":{"x":{"field":"p","type":"quantitative","axis":null},"y":{"field":"s","type":"quantitative","axis":null},"text":{"field":"m","type":"nominal"}}},
   {"data":{"values":[{}]},"mark":{"type":"rule","color":"#d1d3d4","strokeWidth":3,"strokeDash":[12,8]},"encoding":{"x":{"datum":0.4,"type":"quantitative","scale":{"domain":[0,1]},"axis":{"orient":"bottom","values":[0,0.1,0.2,0.3,0.4,0.5,0.6,0.7,0.8,0.9,1],"labelExpr":"round(datum.value*10)%2==0 ? format(datum.value,'.1f') : ''","title":"P"}}}},
   {"data":{"values":[{}]},"mark":{"type":"rule","color":"#231f20","strokeWidth":3,"strokeDash":[10,6]},"encoding":{"y":{"datum":0.6,"type":"quantitative","scale":{"domain":[0,1]},"axis":{"orient":"left","values":[0,0.1,0.2,0.3,0.4,0.5,0.6,0.7,0.8,0.9,1],"labelExpr":"round(datum.value*10)%2==0 ? format(datum.value,'.1f') : ''","title":"S"}}}},
   {"data":{"values":[{}]},"mark":{"type":"text","text":"(d)","align":"right","baseline":"alphabetic","fontSize":21,"font":"Open Sans","color":"#231f20"},"encoding":{"x":{"datum":0.99,"type":"quantitative","axis":null},"y":{"datum":0.07,"type":"quantitative","axis":null}}}
  ]},
 {"width":313,"height":284,
  "resolve":{"axis":{"x":"independent","y":"independent"}},
  "layer":[
   {"data":{"name":"ev"},"transform":[{"filter":"datum.e=='2015/2016'"}],"mark":{"type":"circle","size":420,"opacity":1},"encoding":{"x":{"field":"p","type":"quantitative","scale":{"domain":[0,1]},"axis":{"orient":"top","values":[0,0.1,0.2,0.3,0.4,0.5,0.6,0.7,0.8,0.9,1],"labels":false,"title":null}},"y":{"field":"s","type":"quantitative","scale":{"domain":[0,1]},"axis":{"orient":"right","values":[0,0.1,0.2,0.3,0.4,0.5,0.6,0.7,0.8,0.9,1],"labels":false,"title":null}},"color":{"field":"e","type":"nominal","scale":{"domain":["1982/1983","1997/1998","1994/1995","2004/2005","2009/2010","2015/2016"],"range":["#2656a6","#ee2b26","#6fbe44","#67c8d5","#f58232","#231f20"]},"legend":null}}},
   {"data":{"name":"ev"},"transform":[{"filter":"datum.e=='2015/2016'"}],"mark":{"type":"text","color":"white","fontSize":14,"font":"Open Sans","align":"center","baseline":"middle"},"encoding":{"x":{"field":"p","type":"quantitative","axis":null},"y":{"field":"s","type":"quantitative","axis":null},"text":{"field":"m","type":"nominal"}}},
   {"data":{"values":[{}]},"mark":{"type":"rule","color":"#d1d3d4","strokeWidth":3,"strokeDash":[12,8]},"encoding":{"x":{"datum":0.4,"type":"quantitative","scale":{"domain":[0,1]},"axis":{"orient":"bottom","values":[0,0.1,0.2,0.3,0.4,0.5,0.6,0.7,0.8,0.9,1],"labelExpr":"round(datum.value*10)%2==0 ? format(datum.value,'.1f') : ''","title":null}}}},
   {"data":{"values":[{}]},"mark":{"type":"rule","color":"#231f20","strokeWidth":3,"strokeDash":[10,6]},"encoding":{"y":{"datum":0.6,"type":"quantitative","scale":{"domain":[0,1]},"axis":{"orient":"left","values":[0,0.1,0.2,0.3,0.4,0.5,0.6,0.7,0.8,0.9,1],"labelExpr":"round(datum.value*10)%2==0 ? format(datum.value,'.1f') : ''","title":"S"}}}},
   {"data":{"values":[{}]},"mark":{"type":"text","text":"(e)","align":"right","baseline":"alphabetic","fontSize":21,"font":"Open Sans","color":"#231f20"},"encoding":{"x":{"datum":0.98,"type":"quantitative","axis":null},"y":{"datum":0.07,"type":"quantitative","axis":null}}}
  ]},
 {"width":313,"height":284,"data":{"name":"leg"},
  "layer":[
   {"mark":{"type":"circle","size":420,"opacity":1,"x":84},"encoding":{"y":{"field":"e","type":"nominal","scale":{"type":"point","domain":["1982/1983","1997/1998","g1","1994/1995","2004/2005","2009/2010","g2","2015/2016"],"range":[37,261],"padding":0},"axis":null},"color":{"field":"e","type":"nominal","scale":{"domain":["1982/1983","1997/1998","1994/1995","2004/2005","2009/2010","2015/2016"],"range":["#2656a6","#ee2b26","#6fbe44","#67c8d5","#f58232","#231f20"]},"legend":null}}},
   {"mark":{"type":"text","x":122,"align":"left","baseline":"middle","fontSize":21,"font":"Open Sans","color":"#231f20"},"encoding":{"y":{"field":"e","type":"nominal","scale":{"type":"point","domain":["1982/1983","1997/1998","g1","1994/1995","2004/2005","2009/2010","g2","2015/2016"],"range":[37,261],"padding":0},"axis":null},"text":{"field":"e","type":"nominal"}}}
  ]},
 {"width":313,"height":681,"data":{"name":"cap"},
  "layer":[
   {"transform":[{"filter":"datum.part=='n'"}],"mark":{"type":"text","align":"left","baseline":"alphabetic","font":"Liberation Serif","fontSize":24,"color":"#1a1a1a","limit":875,"ellipsis":"\u200b","x":-46},"encoding":{"y":{"field":"line","type":"quantitative","scale":{"domain":[0.54,16.19],"reverse":true},"axis":null},"text":{"field":"t","type":"nominal"}}},
   {"transform":[{"filter":"datum.part=='b'"}],"mark":{"type":"text","align":"left","baseline":"alphabetic","font":"Liberation Serif","fontSize":24,"fontWeight":"bold","color":"#1a1a1a","x":-46},"encoding":{"y":{"field":"line","type":"quantitative","scale":{"domain":[0.54,16.19],"reverse":true},"axis":null},"text":{"field":"t","type":"nominal"}}},
   {"transform":[{"filter":"datum.part=='r'"}],"mark":{"type":"text","align":"left","baseline":"alphabetic","font":"Liberation Serif","fontSize":24,"color":"#1a1a1a","limit":745,"ellipsis":"\u200b","x":84},"encoding":{"y":{"field":"line","type":"quantitative","scale":{"domain":[0.54,16.19],"reverse":true},"axis":null},"text":{"field":"t","type":"nominal"}}},
   {"data":{"values":[{"t":"–15–"}]},"mark":{"type":"text","align":"center","baseline":"middle","font":"Liberation Serif","fontSize":23,"color":"#1a1a1a","x":400},"encoding":{"y":{"datum":15.8,"type":"quantitative","scale":{"domain":[0.54,16.19],"reverse":true},"axis":null},"text":{"field":"t","type":"nominal"}}}
  ]}
]
}
